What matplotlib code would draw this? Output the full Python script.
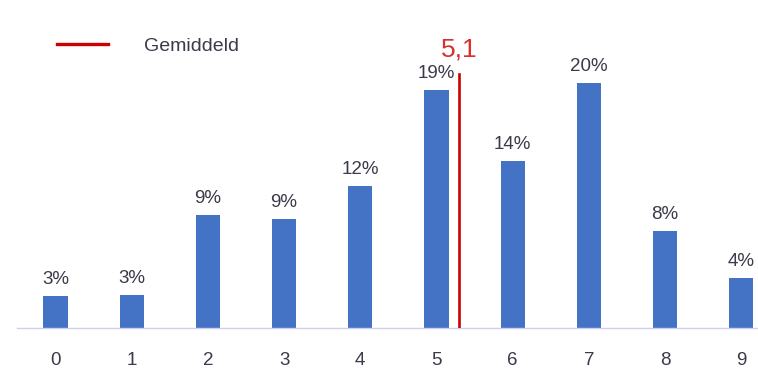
import numpy as np
import matplotlib.pyplot as plt
from matplotlib.lines import Line2D

# score distribution (share of respondents, %)
scores = [0, 1, 2, 3, 4, 5, 6, 7, 8, 9]
shares = [2.6, 2.7, 9.2, 8.9, 11.6, 19.4, 13.6, 20.0, 7.9, 4.1]
legend_label = "Gemiddeld"

bar_color = '#4472C4'
red = '#CC0000'
text_color = '#3a3a4a'

plt.rcParams['font.family'] = ['Liberation Sans', 'DejaVu Sans']

x = np.array(scores)
y = np.array(shares)
mean = (x * y).sum() / y.sum()

fig = plt.figure(figsize=(7.58, 3.68), dpi=100)
ax = fig.add_axes([17.4 / 758, 40 / 368, 762 / 758, 270 / 368])

ax.bar(x, y, width=0.32, color=bar_color)
for xi, yi in zip(x, y):
    ax.annotate(f"{yi:.0f}%", (xi, yi), xytext=(0, 5.5), textcoords='offset points',
                ha='center', va='bottom', fontsize=13.5, color=text_color)

ax.set_xlim(-0.5, 9.5)
ax.set_ylim(0, 22)
ax.set_xticks(x)
ax.set_xticklabels([str(s) for s in scores])
ax.tick_params(axis='x', length=0, pad=17, labelsize=13.5, labelcolor=text_color)
ax.set_yticks([])
for side in ['top', 'right', 'left']:
    ax.spines[side].set_visible(False)
ax.spines['bottom'].set_color('#D0D0EC')
ax.spines['bottom'].set_linewidth(1)

# mean marker on its own x scale
mean_ax = ax.twiny()
mean_ax.set_xlim(-0.67, 9.33)
mean_ax.set_ylim(0, 22)
mean_ax.axvline(mean, ymin=0, ymax=0.94, color=red, lw=1.9)
mean_ax.text(mean, 21.7, f"{mean:.1f}".replace('.', ','), ha='center', va='bottom',
             fontsize=19, color='#D8302C')
mean_ax.axis('off')

handle = Line2D([], [], color=red, lw=2.4)
fig.legend([handle], [legend_label], loc='center left',
           bbox_to_anchor=(57 / 758, 1 - 46 / 368), frameon=False,
           borderpad=0, borderaxespad=0, handlelength=2.6, handletextpad=1.85,
           prop={'size': 14}, labelcolor=text_color)

plt.savefig('out.png', dpi=100)
